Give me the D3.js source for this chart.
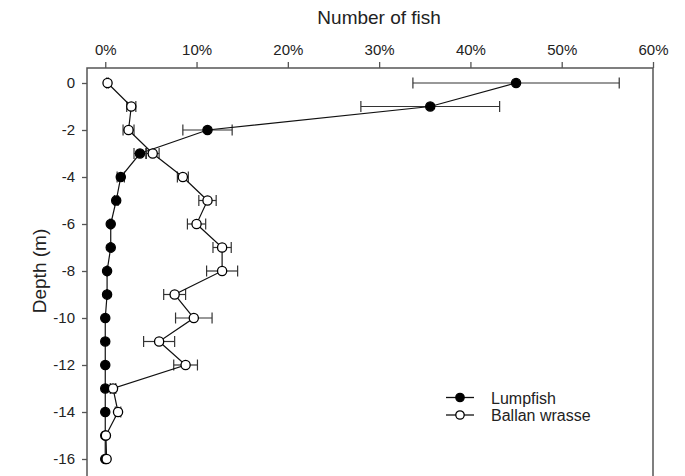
<!DOCTYPE html>
<html>
<head>
<meta charset="utf-8">
<script src="https://cdn.jsdelivr.net/npm/d3@7"></script>
<style>
  html, body { margin: 0; padding: 0; background: #fff; }
  svg { display: block; font-family: "Liberation Sans", Arial, sans-serif; }
</style>
</head>
<body>
<svg id="chart" width="685" height="476"></svg>
<script>
// Depth levels (m)
const depths = [0, -1, -2, -3, -4, -5, -6, -7, -8, -9, -10, -11, -12, -13, -14, -15, -16];
// Share of fish at each depth (%) and standard error
const lumpfish    = [45, 35.6, 11.2, 3.8, 1.7, 1.2, 0.6, 0.6, 0.2, 0.2, 0, 0, 0, 0, 0, 0, 0];
const lumpfishErr = [11.3, 7.6, 2.7, 0.65, 0.4, 0.2, 0.1, 0.1, 0.05, 0.05, 0, 0, 0, 0, 0, 0, 0];
const wrasse      = [0.25, 2.85, 2.55, 5.2, 8.5, 11.2, 10.0, 12.8, 12.8, 7.6, 9.7, 5.9, 8.8, 0.85, 1.4, 0.07, 0.15];
const wrasseErr   = [0.1, 0.5, 0.6, 0.7, 0.6, 0.95, 1.0, 1.0, 1.7, 1.2, 2.0, 1.7, 1.3, 0.3, 0.3, 0, 0];
const xTicks = [0, 10, 20, 30, 40, 50, 60];
const yTicks = [0, -2, -4, -6, -8, -10, -12, -14, -16];

const svg = d3.select("#chart");
const frame = { left: 87, right: 653, top: 68, bottom: 490 };

const x = d3.scaleLinear().domain([-2, 60]).range([frame.left, frame.right]);
const y = d3.scaleLinear().domain([0, -16]).range([83, 459]);

const axisColor = "#555";
const textColor = "#222";

// Plot frame
svg.append("rect")
  .attr("x", frame.left).attr("y", frame.top)
  .attr("width", frame.right - frame.left).attr("height", frame.bottom - frame.top)
  .attr("fill", "none").attr("stroke", axisColor).attr("stroke-width", 1.5);

// Top axis
const xAxis = svg.append("g")
  .attr("transform", `translate(0,${frame.top})`)
  .call(d3.axisTop(x).tickValues(xTicks).tickFormat(d => d + "%").tickSize(6).tickPadding(7));
// Left axis (plain hyphen for negative depths)
const yAxis = svg.append("g")
  .attr("transform", `translate(${frame.left},0)`)
  .call(d3.axisLeft(y).tickValues(yTicks).tickFormat(d => String(d)).tickSize(5).tickPadding(7));

[xAxis, yAxis].forEach(g => {
  g.select(".domain").remove();
  g.selectAll(".tick line").attr("stroke", axisColor).attr("stroke-width", 1.3);
  g.selectAll(".tick text").attr("fill", textColor).style("font-size", "15px")
    .style("font-family", "Liberation Sans, Arial, sans-serif");
});

// Axis titles
svg.append("text")
  .attr("x", (x(0) + x(60)) / 2).attr("y", 24)
  .attr("text-anchor", "middle").attr("fill", textColor)
  .style("font-size", "19px").text("Number of fish");
svg.append("text")
  .attr("transform", `translate(46,${(y(0) + y(-16)) / 2}) rotate(-90)`)
  .attr("text-anchor", "middle").attr("fill", textColor)
  .style("font-size", "19px").text("Depth (m)");

const series = [
  { name: "Lumpfish", values: lumpfish, err: lumpfishErr, fill: "#000" },
  { name: "Ballan wrasse", values: wrasse, err: wrasseErr, fill: "#fff" }
];

const line = d3.line().x(d => x(d.v)).y(d => y(d.depth));
const capH = 5.5;

series.forEach(s => {
  const pts = depths.map((depth, i) => ({ depth, v: s.values[i], e: s.err[i] }));
  const g = svg.append("g");

  // Error bars
  const eb = g.selectAll(".eb").data(pts.filter(p => p.e > 0)).join("g")
    .attr("stroke", "#333").attr("stroke-width", 1.2).attr("fill", "none");
  eb.append("line")
    .attr("x1", p => x(p.v - p.e)).attr("x2", p => x(p.v + p.e))
    .attr("y1", p => y(p.depth)).attr("y2", p => y(p.depth));
  eb.append("line")
    .attr("x1", p => x(p.v - p.e)).attr("x2", p => x(p.v - p.e))
    .attr("y1", p => y(p.depth) - capH).attr("y2", p => y(p.depth) + capH);
  eb.append("line")
    .attr("x1", p => x(p.v + p.e)).attr("x2", p => x(p.v + p.e))
    .attr("y1", p => y(p.depth) - capH).attr("y2", p => y(p.depth) + capH);

  // Connecting line
  g.append("path").datum(pts)
    .attr("d", line).attr("fill", "none").attr("stroke", "#111").attr("stroke-width", 1.2);

  // Markers
  g.selectAll("circle").data(pts).join("circle")
    .attr("cx", p => x(p.v)).attr("cy", p => y(p.depth)).attr("r", 4.6)
    .attr("fill", s.fill).attr("stroke", "#000").attr("stroke-width", 1.3);
});

// Legend
const legend = svg.append("g");
series.forEach((s, i) => {
  const ly = 397.5 + i * 17.5;
  legend.append("line")
    .attr("x1", 446).attr("x2", 474).attr("y1", ly).attr("y2", ly)
    .attr("stroke", "#111").attr("stroke-width", 1.3);
  legend.append("circle")
    .attr("cx", 460).attr("cy", ly).attr("r", 4.2)
    .attr("fill", s.fill).attr("stroke", "#000").attr("stroke-width", 1.3);
  legend.append("text")
    .attr("x", 491).attr("y", ly + 6)
    .attr("fill", textColor).style("font-size", "16px").text(s.name);
});
</script>
</body>
</html>
